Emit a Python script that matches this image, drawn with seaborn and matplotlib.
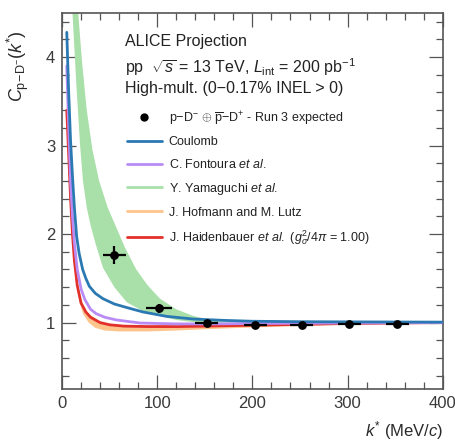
import numpy as np
import pandas as pd
import matplotlib
matplotlib.use("Agg")
import matplotlib.pyplot as plt
from matplotlib.lines import Line2D
from matplotlib.ticker import MultipleLocator
import seaborn as sns

# ---------------- data ----------------
data_k = [55, 102, 152, 203, 252, 302, 352]
data_C = [1.76, 1.16, 0.99, 0.97, 0.975, 0.98, 0.985]
data_kerr = [12, 14, 12, 12, 12, 12, 12]
data_Cerr = [0.10, 0.05, 0.03, 0.02, 0.02, 0.02, 0.02]

coulomb_k = [5, 7, 9, 11, 13, 15.4, 18, 21.7, 25, 28.7, 35, 43, 55, 68, 85, 110, 138, 170, 200, 250, 300, 400]
coulomb_C = [4.28, 3.6, 3.05, 2.65, 2.3, 1.97, 1.78, 1.6, 1.5, 1.41, 1.33, 1.27, 1.21, 1.17, 1.12, 1.07, 1.04, 1.025, 1.015, 1.01, 1.008, 1.005]

fontoura_k = [5, 7, 9, 11, 13, 16, 20, 24, 30, 36, 45, 57, 82, 120, 160, 200, 300, 400]
fontoura_C = [3.9, 3.2, 2.6, 2.2, 1.9, 1.6, 1.38, 1.26, 1.15, 1.1, 1.06, 1.03, 0.995, 0.985, 0.985, 0.99, 0.995, 1.0]

haiden_k = [5, 7, 9, 11, 13, 16, 20, 25, 30, 40, 50, 65, 90, 120, 150, 200, 250, 300, 350, 400]
haiden_C = [3.4, 2.9, 2.4, 2.0, 1.7, 1.42, 1.22, 1.12, 1.06, 1.0, 0.975, 0.96, 0.955, 0.955, 0.96, 0.97, 0.98, 0.99, 0.995, 1.0]

yama_lo_k = [11, 15, 19, 22, 26, 30, 35, 43, 55, 68, 85, 103, 120, 138, 160, 200, 400]
yama_lo_C = [4.5, 3.7, 3.0, 2.6, 2.3, 2.1, 1.9, 1.62, 1.4, 1.23, 1.13, 1.075, 1.03, 1.005, 1.0, 1.0, 1.0]
yama_hi_k = [17, 21, 26, 32, 39, 48, 58, 66, 78, 90, 103, 120, 138, 155, 175, 200, 400]
yama_hi_C = [4.5, 3.95, 3.4, 2.95, 2.6, 2.3, 2.05, 1.85, 1.6, 1.42, 1.27, 1.15, 1.075, 1.03, 1.01, 1.01, 1.01]

hof_lo_k = [5, 7, 9, 11, 14, 18, 22, 28, 35, 45, 60, 90, 120, 150, 200, 250, 300, 350, 400]
hof_lo_C = [3.3, 2.7, 2.2, 1.85, 1.5, 1.25, 1.1, 1.0, 0.94, 0.91, 0.90, 0.90, 0.91, 0.925, 0.945, 0.96, 0.975, 0.985, 0.99]
hof_hi_k = [5, 7, 9, 11, 13, 16, 20, 25, 30, 40, 50, 65, 90, 120, 150, 200, 250, 300, 350, 400]
hof_hi_C = [3.45, 2.95, 2.45, 2.05, 1.75, 1.46, 1.25, 1.14, 1.08, 1.01, 0.985, 0.97, 0.965, 0.965, 0.97, 0.98, 0.99, 0.995, 1.0, 1.005]

# ---------------- style ----------------
sns.set_theme(style="ticks")
plt.rcParams["font.family"] = ["Liberation Sans", "DejaVu Sans"]
plt.rcParams["mathtext.fontset"] = "custom"
plt.rcParams["mathtext.rm"] = "Liberation Sans"
plt.rcParams["mathtext.it"] = "Liberation Sans:italic"
plt.rcParams["mathtext.bf"] = "Liberation Sans:bold"

c_blue = "#2b79b3"
c_purple = "#b98cf5"
c_green = "#a9dfa9"
c_orange = "#fdc48c"
c_red = "#e2302b"
c_axis = "#555555"

fig = plt.figure(figsize=(4.56, 4.43), dpi=100)
ax = fig.add_axes([0.136, 0.122, 0.835, 0.849])

# bands
ax.fill(np.r_[yama_lo_k, yama_hi_k[::-1]], np.r_[yama_lo_C, yama_hi_C[::-1]], color=c_green, lw=0, zorder=1)
ax.fill(np.r_[hof_lo_k, hof_hi_k[::-1]], np.r_[hof_lo_C, hof_hi_C[::-1]], color=c_orange, lw=0, zorder=2)

# curves
df = pd.concat([
    pd.DataFrame({"k": coulomb_k, "C": coulomb_C, "model": "Coulomb"}),
    pd.DataFrame({"k": fontoura_k, "C": fontoura_C, "model": "Fontoura"}),
    pd.DataFrame({"k": haiden_k, "C": haiden_C, "model": "Haidenbauer"}),
])
sns.lineplot(data=df[df.model == "Haidenbauer"], x="k", y="C", color=c_red, lw=2, sort=False,
             estimator=None, legend=False, ax=ax, zorder=3)
sns.lineplot(data=df[df.model == "Fontoura"], x="k", y="C", color=c_purple, lw=2, sort=False,
             estimator=None, legend=False, ax=ax, zorder=4)
sns.lineplot(data=df[df.model == "Coulomb"], x="k", y="C", color=c_blue, lw=2, sort=False,
             estimator=None, legend=False, ax=ax, zorder=5)

# data points
ax.errorbar(data_k, data_C, xerr=data_kerr, yerr=data_Cerr, fmt="none", ecolor="black",
            elinewidth=1.6, capsize=0, zorder=6)
sns.scatterplot(x=data_k, y=data_C, color="black", s=40, edgecolor="black", linewidth=0, ax=ax, zorder=7)

ax.set_xlim(0, 400)
ax.set_ylim(0.25, 4.5)
ax.xaxis.set_major_locator(MultipleLocator(100))
ax.xaxis.set_minor_locator(MultipleLocator(20))
ax.yaxis.set_major_locator(MultipleLocator(1))
ax.yaxis.set_minor_locator(MultipleLocator(0.2))
ax.tick_params(which="both", direction="in", top=True, right=True, color=c_axis, width=0.9)
ax.tick_params(which="major", length=10, labelsize=12, pad=5, labelcolor="#3a3a3a")
ax.tick_params(which="minor", length=5)
for s in ax.spines.values():
    s.set_color(c_axis)
    s.set_linewidth(1.2)

ax.set_xlabel(r"$k^{*}$ (MeV/$c$)", fontsize=12, loc="right", color="#2a2a2a")
ax.set_ylabel(r"$C_{\mathrm{p\!-\!D^{-}}}(k^{*})$", fontsize=13, loc="top", color="#2a2a2a")
ax.xaxis.set_label_coords(1.0, -0.08)
ax.yaxis.set_label_coords(-0.082, 0.955)

# header texts
tx = 0.165
ax.text(tx, 0.923, "ALICE Projection", transform=ax.transAxes, fontsize=11.5, va="center", color="#222222")
ax.text(tx, 0.856, r"pp  $\sqrt{s}$ = 13 TeV, $L_{\mathrm{int}}$ = 200 pb$^{-1}$", transform=ax.transAxes,
        fontsize=11.5, va="center", color="#222222")
ax.text(tx, 0.800, "High-mult. (0\u22120.17% INEL > 0)", transform=ax.transAxes, fontsize=11.5,
        va="center", color="#222222")

handles = [
    Line2D([], [], color="black", marker="o", ms=5, ls="none"),
    Line2D([], [], color=c_blue, lw=2),
    Line2D([], [], color=c_purple, lw=2),
    Line2D([], [], color=c_green, lw=2),
    Line2D([], [], color=c_orange, lw=2),
    Line2D([], [], color=c_red, lw=2),
]
labels = [
    r"p$-$D$^{-}$ $\oplus$ $\overline{\mathrm{p}}$$-$D$^{+}$ - Run 3 expected",
    "Coulomb",
    r"C. Fontoura $et\ al.$",
    r"Y. Yamaguchi $et\ al.$",
    "J. Hofmann and M. Lutz",
    r"J. Haidenbauer $et\ al.$ ($g_{\sigma}^{2}/4\pi$ = 1.00)",
]
leg = ax.legend(handles, labels, loc="upper left", bbox_to_anchor=(0.17, 0.745), frameon=False,
                fontsize=9, handlelength=2.8, handletextpad=0.55, labelspacing=0.78,
                borderpad=0, borderaxespad=0)
for t in leg.get_texts():
    t.set_color("#222222")

fig.savefig("out.png", dpi=100)
